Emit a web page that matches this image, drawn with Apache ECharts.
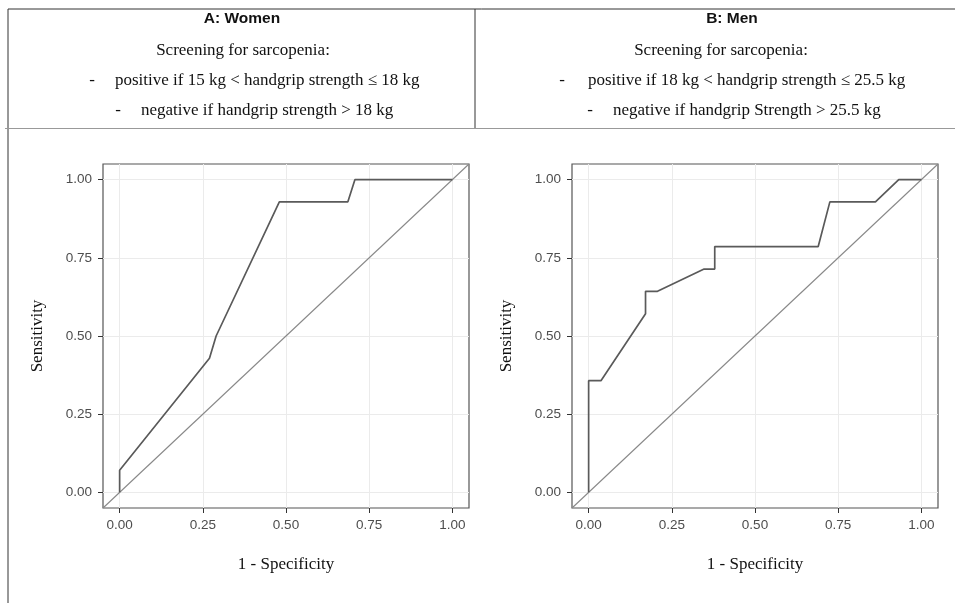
<!DOCTYPE html>
<html>
<head>
<meta charset="utf-8">
<script src="https://cdn.jsdelivr.net/npm/echarts@6/dist/echarts.min.js"></script>
<style>
  html, body { margin: 0; padding: 0; background: #fff; }
  #chart { width: 955px; height: 603px; }
</style>
</head>
<body>
<div id="chart"></div>
<script>
'use strict';

// ROC curves (1 - specificity, sensitivity)
const womenFpr = [0, 0, 0.27, 0.29, 0.48, 0.686, 0.707, 1];
const womenTpr = [0, 0.071, 0.429, 0.5, 0.929, 0.929, 1, 1];
const menFpr = [0, 0, 0.037, 0.171, 0.171, 0.207, 0.347, 0.379, 0.379, 0.69, 0.725, 0.862, 0.932, 1];
const menTpr = [0, 0.357, 0.357, 0.571, 0.643, 0.643, 0.714, 0.714, 0.786, 0.786, 0.929, 0.929, 1, 1];
const diagonal = [-0.05, 1.05];
const tickValues = [0, 0.25, 0.5, 0.75, 1];

const SERIF = '"Liberation Serif", "Times New Roman", serif';
const SANS = '"Liberation Sans", Arial, sans-serif';

function pairs(xs, ys) {
  let out = [];
  for (let i = 0; i < xs.length; i++) out.push([xs[i], ys[i]]);
  return out;
}

function makeAxis(gridIndex, isX) {
  let axis = {
    type: 'value',
    gridIndex: gridIndex,
    min: -0.05,
    max: 1.05,
    axisLine: { show: false, onZero: false },
    axisTick: { show: true, length: 5, customValues: tickValues, lineStyle: { color: '#333', width: 1 } },
    axisLabel: {
      customValues: tickValues,
      color: '#4d4d4d', fontFamily: SANS, fontSize: 13.5, margin: isX ? 10 : 11,
      formatter: v => v.toFixed(2)
    },
    splitLine: { show: true, lineStyle: { color: '#ebebeb', width: 1 } },
    nameLocation: 'middle',
    nameTextStyle: { fontFamily: SERIF, fontSize: 17, color: '#111' }
  };
  if (isX) {
    axis.name = '1 - Specificity';
    axis.nameGap = 48;
  } else {
    axis.name = 'Sensitivity';
    axis.nameGap = 57;
  }
  return axis;
}

function curveSeries(idx, xs, ys) {
  return {
    type: 'line', xAxisIndex: idx, yAxisIndex: idx,
    data: pairs(xs, ys), symbol: 'none', silent: true,
    lineStyle: { color: '#5a5a5a', width: 1.7 }
  };
}

function diagSeries(idx) {
  return {
    type: 'line', xAxisIndex: idx, yAxisIndex: idx,
    data: pairs(diagonal, diagonal), symbol: 'none', silent: true,
    lineStyle: { color: '#888', width: 1.1 }
  };
}

function headerText(x, y, text, font, align) {
  return {
    type: 'text', x: x, y: y,
    style: { text: text, font: font, fill: '#111', textAlign: align || 'center', textVerticalAlign: 'middle' }
  };
}

function line(x1, y1, x2, y2, color, w) {
  return { type: 'line', shape: { x1: x1, y1: y1, x2: x2, y2: y2 }, style: { stroke: color, lineWidth: w } };
}

const chart = echarts.init(document.getElementById('chart'), null, { renderer: 'canvas' });

const serif17 = '17px ' + SERIF;
const boldSans = 'bold 15.5px ' + SANS;

chart.setOption({
  animation: false,
  backgroundColor: '#fff',
  grid: [
    { left: 103, top: 164, width: 366, height: 344, show: true, borderColor: '#555', borderWidth: 1.2, backgroundColor: 'transparent' },
    { left: 572, top: 164, width: 366, height: 344, show: true, borderColor: '#555', borderWidth: 1.2, backgroundColor: 'transparent' }
  ],
  xAxis: [makeAxis(0, true), makeAxis(1, true)],
  yAxis: [makeAxis(0, false), makeAxis(1, false)],
  series: [
    diagSeries(0), curveSeries(0, womenFpr, womenTpr),
    diagSeries(1), curveSeries(1, menFpr, menTpr)
  ],
  graphic: [
    line(8, 9, 955, 9, '#333', 1),
    line(8, 9, 8, 603, '#333', 1),
    line(475, 9, 475, 128, '#333', 1),
    line(5, 128.5, 955, 128.5, '#999', 1),
    headerText(242, 19, 'A: Women', boldSans),
    headerText(243, 51, 'Screening for sarcopenia:', serif17),
    headerText(92, 81, '-', serif17),
    headerText(115, 81, 'positive if 15 kg < handgrip strength \u2264 18 kg', serif17, 'left'),
    headerText(118, 111, '-', serif17),
    headerText(141, 111, 'negative if handgrip strength > 18 kg', serif17, 'left'),
    headerText(732, 19, 'B: Men', boldSans),
    headerText(721, 51, 'Screening for sarcopenia:', serif17),
    headerText(562, 81, '-', serif17),
    headerText(588, 81, 'positive if 18 kg < handgrip strength \u2264 25.5 kg', serif17, 'left'),
    headerText(590, 111, '-', serif17),
    headerText(613, 111, 'negative if handgrip Strength > 25.5 kg', serif17, 'left')
  ]
});
</script>
</body>
</html>
